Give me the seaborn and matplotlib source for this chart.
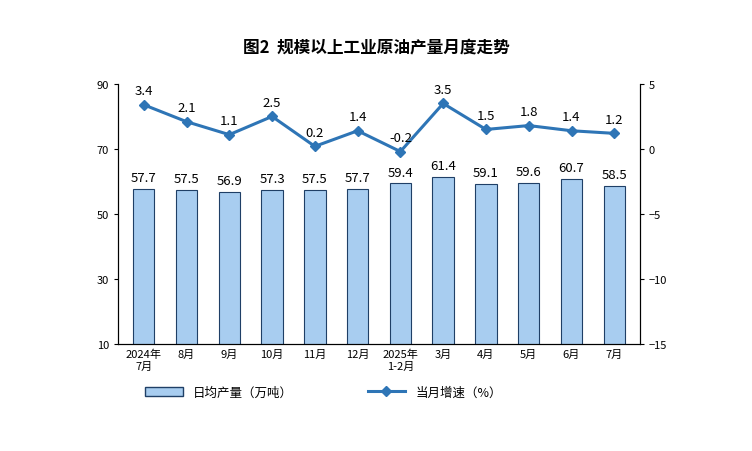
import matplotlib
matplotlib.use("Agg")
import matplotlib.pyplot as plt
import seaborn as sns
import pandas as pd
import numpy as np

plt.rcParams["font.family"] = "Noto Sans CJK SC"

categories = ["2024年\n7月", "8月", "9月", "10月", "11月", "12月", "2025年\n1-2月", "3月", "4月", "5月", "6月", "7月"]
output = [57.7, 57.5, 56.9, 57.3, 57.5, 57.7, 59.4, 61.4, 59.1, 59.6, 60.7, 58.5]
growth = [3.4, 2.1, 1.1, 2.5, 0.2, 1.4, -0.2, 3.5, 1.5, 1.8, 1.4, 1.2]

df = pd.DataFrame({"cat": categories, "out": output, "g": growth})

fig = plt.figure(figsize=(7.52, 4.52), dpi=100)
ax = fig.add_axes([0.157, 0.237, 0.694, 0.575])
sns.barplot(data=df, x="cat", y="out", ax=ax, color="#a8cdf0", edgecolor="#1f3f66",
            linewidth=0.8, width=0.5, saturation=1)
ax.set_ylim(10, 90)
ax.set_yticks([10, 30, 50, 70, 90])
ax.set_xlabel(""); ax.set_ylabel("")
x = np.arange(len(categories))
for xi, v in zip(x, output):
    ax.text(xi, v + 1.5, f"{v}", ha="center", va="bottom", fontsize=9.5)
ax.tick_params(axis="both", labelsize=8, length=3)
ax.tick_params(axis="x", length=0)
ax.spines["top"].set_visible(False)

ax2 = ax.twinx()
ax2.plot(x, growth, color="#2e75b6", marker="D", markersize=5, linewidth=2.2)
ax2.set_ylim(-15, 5)
ax2.set_yticks([-15, -10, -5, 0, 5])
ax2.tick_params(axis="y", labelsize=8, length=3)
ax2.spines["top"].set_visible(False)
for xi, v in zip(x, growth):
    ax2.text(xi, v + 0.6, f"{v}", ha="center", va="bottom", fontsize=9.5)
ax.set_xlim(-0.6, len(categories) - 0.4)

fig.text(0.5, 0.893, "图2  规模以上工业原油产量月度走势", ha="center", va="center",
         fontsize=12, fontweight="bold")

from matplotlib.patches import Patch
from matplotlib.lines import Line2D
h = [Patch(facecolor="#a8cdf0", edgecolor="#1f3f66", label="日均产量（万吨）"),
     Line2D([0], [0], color="#2e75b6", marker="D", markersize=5, linewidth=2.2, label="当月增速（%）")]
fig.legend(handles=h, loc="center", bbox_to_anchor=(0.43, 0.13), ncol=2, frameon=False,
           fontsize=9, columnspacing=6, handlelength=3)

fig.savefig("out.png", dpi=100)
